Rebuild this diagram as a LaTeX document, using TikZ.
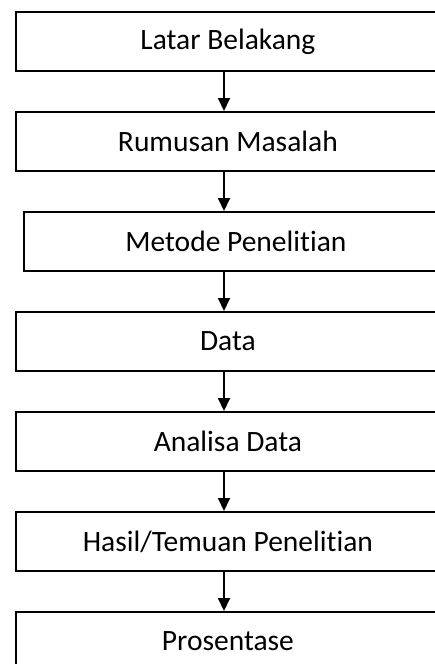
\documentclass[tikz,border=0pt]{standalone}
\usepackage{fontspec}
\setmainfont{Carlito}[Ligatures={NoCommon}]
\usetikzlibrary{arrows.meta}
\tikzset{
  stagebox/.style={draw=black, line width=1.8pt, rectangle, minimum height=59pt, inner sep=0pt, font=\fontsize{29.5}{35}\selectfont, anchor=north west, align=center},
  flowarrow/.style={line width=1.8pt, -{Triangle[length=13pt,width=12pt]}}
}
\begin{document}
\begin{tikzpicture}[x=1pt,y=-1pt]
\useasboundingbox (0,0) rectangle (435,664);
\clip (0,0) rectangle (435,664);
\node[stagebox, minimum width=424pt] (b1) at (15,11) {Latar Belakang};
\node[stagebox, minimum width=424pt] (b2) at (15,111) {Rumusan Masalah};
\node[stagebox, minimum width=424pt] (b3) at (23,211) {Metode Penelitian};
\node[stagebox, minimum width=424pt] (b4) at (15,311) {Data};
\node[stagebox, minimum width=424pt] (b5) at (15,411) {Analisa Data};
\node[stagebox, minimum width=424pt] (b6) at (15,511) {Hasil/Temuan Penelitian};
\node[stagebox, minimum width=424pt] (b7) at (15,611) {Prosentase};
\coordinate (ax) at (224,0);
\draw[flowarrow] (b1.south -| ax) -- (b2.north -| ax);
\draw[flowarrow] (b2.south -| ax) -- (b3.north -| ax);
\draw[flowarrow] (b3.south -| ax) -- (b4.north -| ax);
\draw[flowarrow] (b4.south -| ax) -- (b5.north -| ax);
\draw[flowarrow] (b5.south -| ax) -- (b6.north -| ax);
\draw[flowarrow] (b6.south -| ax) -- (b7.north -| ax);
\end{tikzpicture}
\end{document}
